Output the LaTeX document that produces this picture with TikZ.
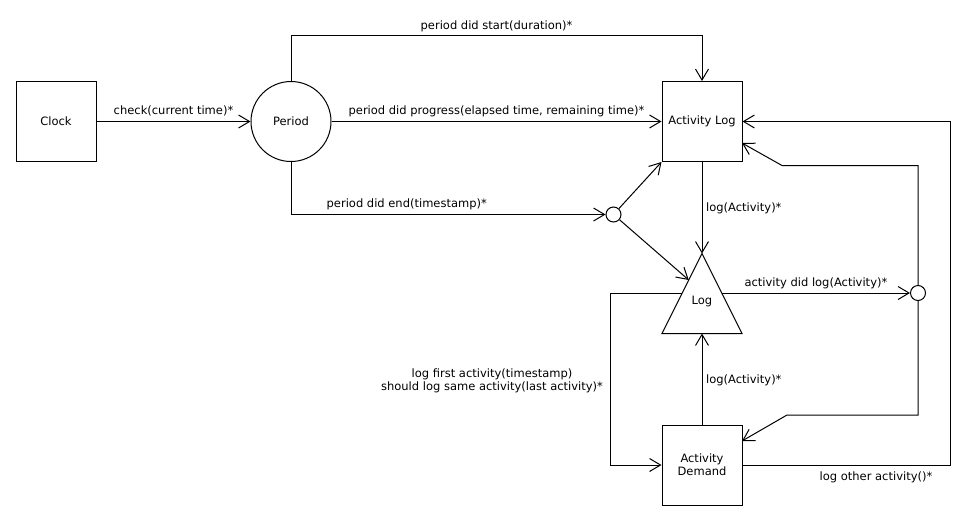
\documentclass[tikz,border=0pt]{standalone}
\usepackage{fontspec}
\setmainfont{DejaVu Sans}
\usetikzlibrary{arrows.meta}
\begin{document}
\begin{tikzpicture}[x=1pt,y=-1pt,
  every node/.style={font=\fontsize{11.5pt}{13pt}\selectfont},
  box/.style={draw, line width=1pt, minimum width=80pt, minimum height=80pt, inner sep=0pt, align=center},
  junc/.style={draw, circle, minimum size=15pt, inner sep=0pt, line width=1pt},
  conn/.style={line width=1pt, -{Straight Barb[length=11pt,width=13pt]}},
  lab/.style={inner sep=0pt, anchor=base}
]
\useasboundingbox (0,0) rectangle (964,520);

% nodes
\node[box] (clock) at (56,121.5) {Clock};
\node[draw, circle, minimum size=80pt, inner sep=0pt, line width=1pt] (period) at (291,121.5) {Period};
\node[box] (alog) at (702,121.5) {Activity Log};
\node[box] (demand) at (702,465) {Activity\\Demand};
\node[junc] (j1) at (613.5,214.5) {};
\node[junc] (j2) at (918,293) {};

% triangle "Log"
\coordinate (tA) at (702,253.5);
\coordinate (tBL) at (662,333.5);
\coordinate (tBR) at (742,333.5);
\coordinate (tB) at (702,333.5);
\coordinate (tIn) at (688.75,280);
\coordinate (tL) at (682.25,293);
\coordinate (tR) at (721.75,293);
\draw[line width=1pt] (tA) -- (tBL) -- (tBR) -- cycle;
\node[lab] (log) at (702,304) {Log};

% helper coordinates
\coordinate (c1) at (782,165.5);
\coordinate (alogIn) at (742,143);
\coordinate (c2) at (787,415);
\coordinate (demIn) at (742,441);
\coordinate (c3) at (950,465);
\coordinate (c4) at (610,293);

% connectors
\draw[conn] (clock) -- (period) node[lab, midway, yshift=7pt] {check(current time)*};
\draw[conn] (period.north) -- ++(0,-45.5) -| (alog.north)
  node[lab, pos=0.25, yshift=6pt] {period did start(duration)*};
\draw[conn] (period) -- (alog)
  node[lab, midway, yshift=7pt] {period did progress(elapsed time, remaining time)*};
\draw[conn] (period.south) |- (j1)
  node[lab, pos=0.684, yshift=7pt] {period did end(timestamp)*};
\draw[conn] (j1) -- (alog.south west);
\draw[conn] (j1) -- (tIn);
\draw[conn] (alog.south) -- (tA);
\node[lab, anchor=base west] (l1) at (706,211) {log(Activity)*};
\draw[conn] (tR) -- (j2)
  node[lab, midway, yshift=6.5pt] {activity did log(Activity)*};
\draw[conn] (j2.north) |- (c1) -- (alogIn);
\draw[conn] (j2.south) |- (c2) -- (demIn);
\draw[conn] (demand.east) -- (c3) |- (alog.east);
\node[lab] (l2) at (876,480) {log other activity()*};
\draw[conn] (demand.north) -- (tB);
\node[lab, anchor=base west] (l3) at (706,383) {log(Activity)*};
\draw[conn] (tL) -- (c4) |- (demand.west);
\node[align=center, inner sep=0pt] (l4) at (492,381) {log first activity(timestamp)\\should log same activity(last activity)*};
\end{tikzpicture}
\end{document}
